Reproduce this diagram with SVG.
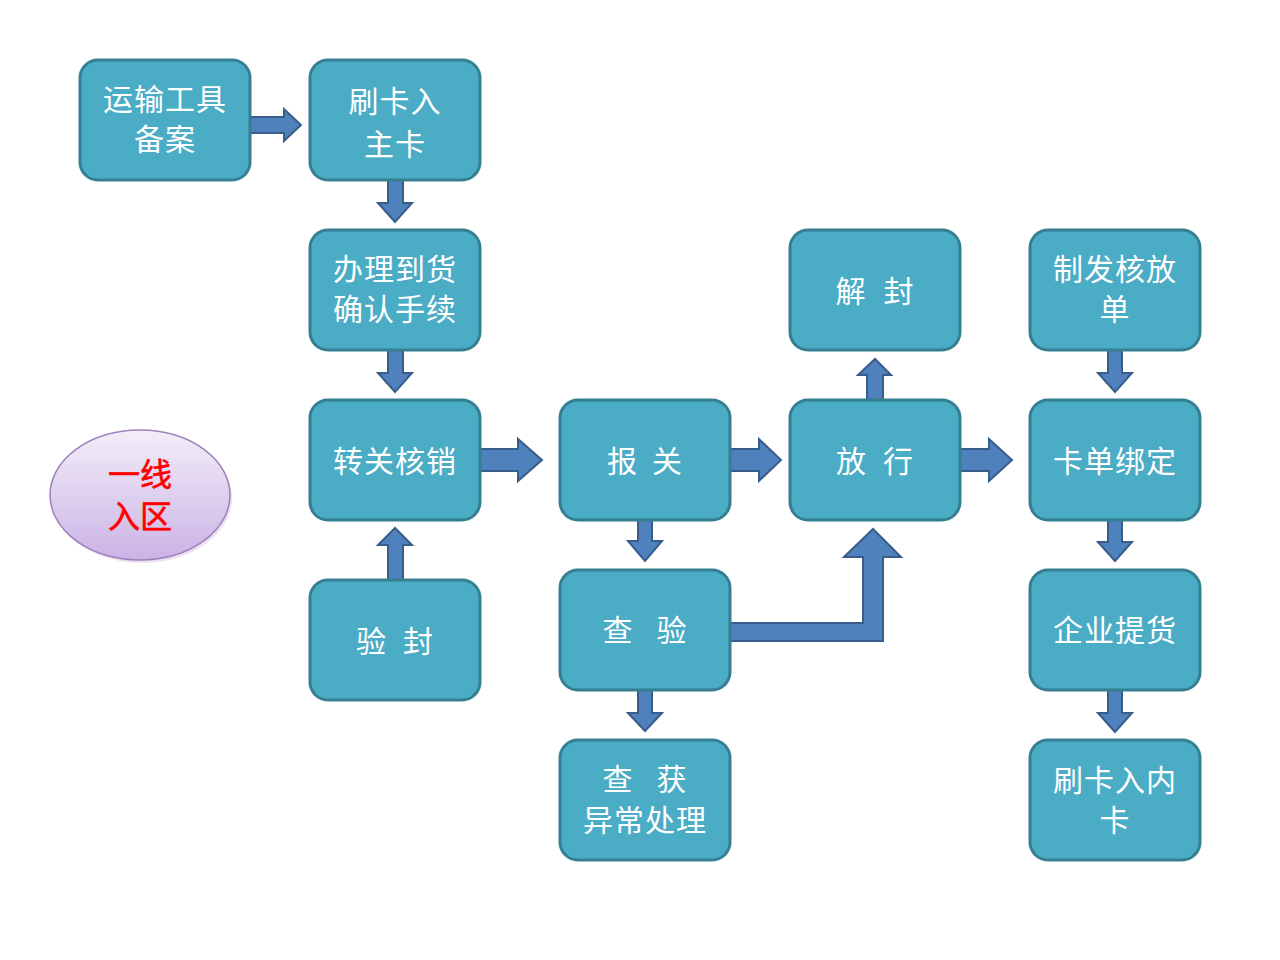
<svg xmlns="http://www.w3.org/2000/svg" width="1280" height="960" viewBox="0 0 1280 960">
<style>
.box{fill:#4bacc6;stroke:#357f93;stroke-width:3}
.t{font-family:"Noto Sans CJK SC","Noto Sans",sans-serif;font-size:30px;fill:#ffffff;text-anchor:middle;letter-spacing:1px}
.arr{fill:#4f81bd;stroke:#385d8a;stroke-width:2;stroke-linejoin:miter}
.red{font-family:"Noto Sans CJK SC","Noto Sans",sans-serif;font-size:32px;fill:#ff0000;text-anchor:middle;stroke:#ff0000;stroke-width:0.6}
</style>
<defs>
<linearGradient id="eg" x1="0" y1="0" x2="0" y2="1">
<stop offset="0" stop-color="#f3eef9"/>
<stop offset="1" stop-color="#cbb3e5"/>
</linearGradient>
</defs>
<rect width="1280" height="960" fill="#ffffff"/>

<g id="connectors">
<polygon class="arr" points="250,117 284,117 284,109 301,125 284,141 284,133 250,133"/>
<polygon class="arr" points="388,180 403,180 403,203 412,203 395,222 378,203 388,203"/>
<polygon class="arr" points="388,350 403,350 403,373 412,373 395,392 378,373 388,373"/>
<polygon class="arr" points="388,580 388,545 378,545 395,528 412,545 403,545 403,580"/>
<polygon class="arr" points="480,449 518,449 518,439 542,460 518,481 518,471 480,471"/>
<polygon class="arr" points="730,449 759,449 759,439 781,460 759,481 759,471 730,471"/>
<polygon class="arr" points="960,449 989,449 989,439 1012,460 989,481 989,471 960,471"/>
<polygon class="arr" points="867,400 867,375 858,375 875,359 891,375 883,375 883,400"/>
<polygon class="arr" points="638,520 652,520 652,541 662,541 645,561 628,541 638,541"/>
<polygon class="arr" points="638,690 652,690 652,713 662,713 645,731 628,713 638,713"/>
<polygon class="arr" points="1108,350 1122,350 1122,373 1132,373 1115,392 1098,373 1108,373"/>
<polygon class="arr" points="1108,520 1122,520 1122,542 1132,542 1115,561 1098,542 1108,542"/>
<polygon class="arr" points="1108,690 1122,690 1122,713 1132,713 1115,732 1098,713 1108,713"/>
<polygon class="arr" points="730,623 863,623 863,557 844,557 873,529 901,557 883,557 883,641 730,641"/>
</g>

<g id="n-yunshu"><rect class="box" x="80" y="60" width="170" height="120" rx="18"/><text class="t"><tspan x="165" y="110">运输工具</tspan><tspan x="165" y="150">备案</tspan></text></g>
<g id="n-shuaka-zhu"><rect class="box" x="310" y="60" width="170" height="120" rx="18"/><text class="t"><tspan x="395" y="112">刷卡入</tspan><tspan x="395" y="155">主卡</tspan></text></g>
<g id="n-banli"><rect class="box" x="310" y="230" width="170" height="120" rx="18"/><text class="t"><tspan x="395" y="280">办理到货</tspan><tspan x="395" y="320">确认手续</tspan></text></g>
<g id="n-zhuanguan"><rect class="box" x="310" y="400" width="170" height="120" rx="18"/><text class="t" x="395" y="472">转关核销</text></g>
<g id="n-yanfeng"><rect class="box" x="310" y="580" width="170" height="120" rx="18"/><text class="t" x="395" y="652">验<tspan dx="16">封</tspan></text></g>
<g id="n-baoguan"><rect class="box" x="560" y="400" width="170" height="120" rx="18"/><text class="t" x="645" y="472">报<tspan dx="14">关</tspan></text></g>
<g id="n-chayan"><rect class="box" x="560" y="570" width="170" height="120" rx="18"/><text class="t" x="645" y="641">查<tspan dx="23">验</tspan></text></g>
<g id="n-chahuo"><rect class="box" x="560" y="740" width="170" height="120" rx="18"/><text class="t"><tspan x="645" y="790">查<tspan dx="23">获</tspan></tspan><tspan x="645" y="831">异常处理</tspan></text></g>
<g id="n-jiefeng"><rect class="box" x="790" y="230" width="170" height="120" rx="18"/><text class="t" x="875" y="302">解<tspan dx="17">封</tspan></text></g>
<g id="n-fangxing"><rect class="box" x="790" y="400" width="170" height="120" rx="18"/><text class="t" x="875" y="472">放<tspan dx="16">行</tspan></text></g>
<g id="n-zhifa"><rect class="box" x="1030" y="230" width="170" height="120" rx="18"/><text class="t"><tspan x="1115" y="280">制发核放</tspan><tspan x="1115" y="320">单</tspan></text></g>
<g id="n-kadan"><rect class="box" x="1030" y="400" width="170" height="120" rx="18"/><text class="t" x="1115" y="472">卡单绑定</text></g>
<g id="n-tihuo"><rect class="box" x="1030" y="570" width="170" height="120" rx="18"/><text class="t" x="1115" y="641">企业提货</text></g>
<g id="n-shuaka-nei"><rect class="box" x="1030" y="740" width="170" height="120" rx="18"/><text class="t"><tspan x="1115" y="791">刷卡入内</tspan><tspan x="1115" y="831">卡</tspan></text></g>

<g id="n-yixian">
<ellipse cx="142" cy="498" rx="90" ry="65" fill="#b8a0d0" opacity="0.3"/>
<ellipse cx="140" cy="495" rx="90" ry="65" fill="url(#eg)" stroke="#9d82bd" stroke-width="1.5"/>
<text class="red"><tspan x="140" y="486">一线</tspan><tspan x="140" y="528">入区</tspan></text>
</g>
</svg>
